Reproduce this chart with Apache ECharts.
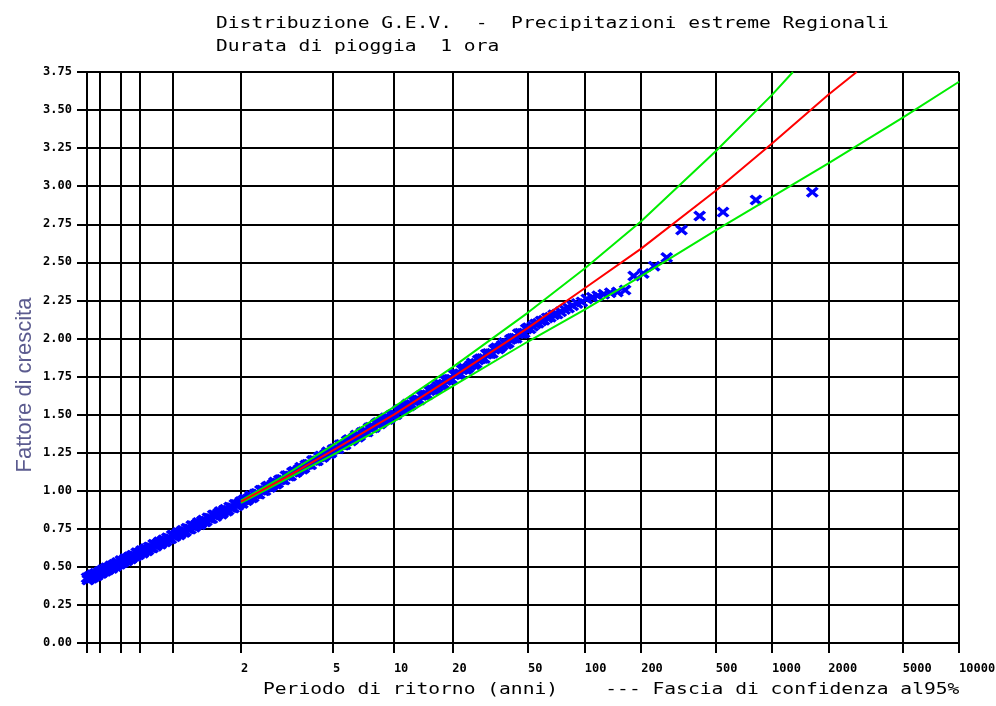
<!DOCTYPE html>
<html><head><meta charset="utf-8">
<script src="https://cdn.jsdelivr.net/npm/echarts@6/dist/echarts.min.js"></script>
<style>html,body{margin:0;padding:0;background:#fff}#c{width:996px;height:706px}</style>
</head><body><div id="c"></div>
<script>
// ---- texts ----
const titleLines = ['Distribuzione G.E.V.  -  Precipitazioni estreme Regionali', 'Durata di pioggia  1 ora'];
const xAxisText = 'Periodo di ritorno (anni)    --- Fascia di confidenza al95%';
const yAxisName = 'Fattore di crescita';

// ---- axis ticks (return period, years) ----
const gridTicksT = [1.01, 1.02, 1.05, 1.1, 1.25, 2, 5, 10, 20, 50, 100, 200, 500, 1000, 2000, 5000, 10000];
const labelTicksT = [2, 5, 10, 20, 50, 100, 200, 500, 1000, 2000, 5000, 10000];
const labelTexts = ['2', '5', '10', '20', '50', '100', '200', '500', '1000', '2000', '5000', '10000'];
const yMin = 0, yMax = 3.75, yStep = 0.25;

// ---- fitted GEV growth curve (red) ----
const fitT =     [2, 3, 5, 10, 20, 50, 100, 200, 500, 1000, 2000, 2836];
const fitValue = [0.928, 1.083, 1.265, 1.50, 1.745, 2.07, 2.33, 2.59, 2.97, 3.28, 3.60, 3.75];

// ---- 95% confidence band (green) ----
const upperT =     [2, 3, 5, 10, 20, 50, 100, 200, 500, 1000, 1294];
const upperValue = [0.935, 1.10, 1.30, 1.55, 1.81, 2.17, 2.46, 2.77, 3.23, 3.60, 3.75];
const lowerT =     [2, 3, 5, 10, 20, 50, 100, 200, 500, 1000, 2000, 5000, 10000];
const lowerValue = [0.92, 1.07, 1.235, 1.455, 1.685, 1.98, 2.19, 2.41, 2.71, 2.93, 3.15, 3.45, 3.686];

// ---- observed regional sample [return period, growth factor] ----
const observedLow = [
[1.010,.428],[1.011,.418],[1.012,.432],[1.013,.426],[1.014,.446],[1.015,.442],[1.016,.458],[1.018,.450],
[1.020,.470],[1.022,.462],[1.024,.476],[1.026,.471],[1.028,.491],[1.030,.488],[1.033,.507],[1.036,.499],
[1.039,.518],[1.042,.509],[1.045,.523],[1.048,.517],[1.052,.539],[1.056,.537],[1.060,.555],[1.065,.547],
[1.070,.567],[1.075,.558],[1.080,.573],[1.086,.569],[1.092,.591],[1.098,.589],[1.105,.608],[1.112,.599],
[1.120,.620],[1.128,.611],[1.137,.628],[1.146,.624],[1.156,.646],[1.166,.646],[1.177,.665],[1.188,.657],
[1.200,.678],[1.213,.671],[1.226,.687],[1.240,.684],[1.255,.707],[1.270,.706],[1.286,.726],[1.303,.719],
[1.320,.740],[1.340,.733],[1.360,.751],[1.380,.748],[1.400,.770],[1.425,.771],[1.450,.792],[1.475,.786],
[1.500,.807],[1.530,.801],[1.560,.819],[1.590,.817],[1.620,.840],[1.655,.842],[1.690,.863],[1.725,.856],
[1.760,.878],[1.800,.872],[1.840,.890],[1.880,.887],[1.920,.910],[1.960,.910],[2.000,.930]
];
const observedLowFill = [
[1.0105,.413],[1.0115,.437],[1.0125,.429],[1.0135,.449],[1.0145,.434],[1.0155,.450],[1.017,.441],[1.019,.465],
[1.021,.456],[1.023,.481],[1.025,.473],[1.027,.494],[1.029,.480],[1.0315,.498],[1.0345,.490],[1.0375,.513],
[1.0405,.503],[1.0435,.528],[1.0465,.520],[1.050,.541],[1.054,.528],[1.058,.546],[1.0625,.538],[1.0675,.562],
[1.0725,.552],[1.0775,.577],[1.083,.571],[1.089,.593],[1.095,.580],[1.1015,.599],[1.1085,.590],[1.116,.614],
[1.124,.605],[1.1325,.631],[1.1415,.626],[1.151,.648],[1.161,.636],[1.1715,.656],[1.1825,.648],[1.194,.672],
[1.2065,.664],[1.2195,.691],[1.233,.685],[1.2475,.708],[1.2625,.697],[1.278,.716],[1.2945,.709],[1.3115,.734],
[1.330,.726],[1.350,.754],[1.370,.749],[1.390,.772],[1.4125,.761],[1.4375,.782],[1.4625,.776],[1.4875,.801],
[1.515,.794],[1.545,.822],[1.575,.818],[1.605,.841],[1.6375,.831],[1.6725,.853],[1.7075,.846],[1.7425,.872],
[1.780,.865],[1.820,.893],[1.860,.888],[1.900,.911],[1.940,.900],[1.980,.920]
];
const observedMid = [
[2.05,.939],[2.1,.934],[2.15,.953],[2.2,.952],[2.26,.978],[2.32,.981],[2.38,1.003],[2.45,1.000],
[2.52,1.024],[2.6,1.021],[2.68,1.042],[2.76,1.043],[2.85,1.070],[2.94,1.074],[3.04,1.098],[3.14,1.095],
[3.25,1.121],[3.36,1.118],[3.48,1.140],[3.6,1.141],[3.73,1.169],[3.87,1.174],[4.0,1.198],[4.15,1.195],
[4.3,1.221],[4.46,1.218],[4.62,1.240],[4.8,1.242],[5.0,1.271],[5.2,1.277],[5.4,1.302],[5.6,1.299],
[5.85,1.328],[6.1,1.327],[6.35,1.350],[6.6,1.352],[6.9,1.382],[7.2,1.388],[7.5,1.414],[7.8,1.412],
[8.15,1.440],[8.5,1.439],[8.9,1.463],[9.3,1.467],[9.7,1.496],[10,1.498]
];
const observedMidFill = [
[2.025,.916],[2.075,.945],[2.125,.942],[2.175,.967],[2.23,.959],[2.29,.982],[2.35,.977],[2.415,1.005],
[2.485,1.001],[2.56,1.031],[2.64,1.030],[2.72,1.057],[2.805,1.050],[2.895,1.074],[2.99,1.071],[3.09,1.100],
[3.195,1.097],[3.305,1.128],[3.42,1.128],[3.54,1.155],[3.665,1.149],[3.80,1.174],[3.935,1.171],[4.075,1.200],
[4.225,1.197],[4.38,1.228],[4.54,1.228],[4.71,1.256],[4.9,1.250],[5.1,1.276],[5.3,1.275],[5.5,1.304],
[5.725,1.302],[5.975,1.336],[6.225,1.337],[6.475,1.366],[6.75,1.361],[7.05,1.387],[7.35,1.386],[7.65,1.417],
[7.975,1.415],[8.325,1.448],[8.7,1.450],[9.1,1.480],[9.5,1.475],[9.85,1.499]
];
const observedHigh = [
[10.5,1.526],[11,1.527],[11.5,1.552],[12,1.556],[12.6,1.589],[13.2,1.597],[13.8,1.625],[14.5,1.627],
[15.2,1.657],[16,1.660],[16.8,1.686],[17.6,1.691],[18.5,1.724],[19.4,1.732],[20.4,1.762],[21.4,1.764],
[22.5,1.794],[23.6,1.796],[24.8,1.822],[26,1.827],[27.3,1.859],[28.7,1.868],[30.1,1.897],[31.6,1.899],
[33.2,1.929],[34.9,1.931],[36.6,1.956],[38.4,1.962],[40.3,1.993],[42.3,2.002],[44.4,2.031],[46.6,2.032],
[48.9,2.062],[51.3,2.063]
];
const observedHighFill = [
[10.25,1.499],[10.75,1.535],[11.25,1.538],[11.75,1.569],[12.3,1.566],[12.9,1.595],[13.5,1.596],[14.15,1.630],
[14.85,1.631],[15.6,1.667],[16.4,1.672],[17.2,1.703],[18.05,1.701],[18.95,1.730],[19.9,1.732],[20.9,1.767],
[21.95,1.768],[23.05,1.804],[24.2,1.808],[25.4,1.839],[26.65,1.837],[28.0,1.866],[29.4,1.868],[30.85,1.902],
[32.4,1.903],[34.05,1.939],[35.75,1.942],[37.5,1.974],[39.35,1.971],[41.3,2.000],[43.35,2.002],[45.5,2.035],
[47.75,2.036],[50.1,2.071]
];
const observedTail = [
[53.0,2.08],[54.7,2.095],[56.6,2.10],[58.6,2.115],[60.8,2.12],[63.2,2.135],[65.7,2.14],[68.4,2.155],
[71.4,2.16],[74.6,2.175],[78.2,2.19],[82.1,2.20],[86.4,2.215],[91.2,2.23],[96.6,2.24],[102.6,2.26],
[109.5,2.27],[117.3,2.28],[126.3,2.29],[136.8,2.30],[149.3,2.305],[164.2,2.318],[182.4,2.41],[205.3,2.427],
[234.6,2.475],[273.7,2.532],[328.4,2.712],[410.5,2.804],[547.3,2.830],[821,2.909],[1642,2.961]
];

// Gumbel probability-paper abscissa (reduced variate) for a return period
function gumbel(T) { return -Math.log(-Math.log(1 - 1 / T)); }

const observed = observedLow.concat(observedLowFill, observedMid, observedMidFill, observedHigh, observedHighFill, observedTail)
  .map(p => [gumbel(p[0]), p[1]]);
const toLine = (Ts, Vs) => Ts.map((t, i) => [gumbel(t), Vs[i]]);

const labelPos = labelTicksT.map(gumbel);
function xLabel(v) {
  for (let i = 0; i < labelPos.length; i++) if (Math.abs(labelPos[i] - v) < 1e-6) return labelTexts[i];
  return '';
}

const monoFont = '"DejaVu Sans Mono", monospace';
const gridLine = { color: '#000', width: 2 };
const xMarker = 'path://M0,2 L2,0 L5,3 L8,0 L10,2 L7,5 L10,8 L8,10 L5,7 L2,10 L0,8 L3,5 Z';

const chart = echarts.init(document.getElementById('c'), null, { renderer: 'canvas' });
chart.setOption({
  animation: false,
  backgroundColor: '#fff',
  grid: { left: 87, top: 72, right: 37, bottom: 63, containLabel: false, outerBoundsMode: 'none' },
  xAxis: {
    type: 'value', min: gumbel(gridTicksT[0]), max: gumbel(gridTicksT[gridTicksT.length - 1]),
    axisLine: { show: true, onZero: false, lineStyle: gridLine },
    axisTick: { show: true, length: 10, customValues: gridTicksT.map(gumbel), lineStyle: gridLine },
    axisLabel: { customValues: labelPos, formatter: xLabel, align: 'left', margin: 20,
                 fontFamily: monoFont, fontWeight: 'bold', fontSize: 12, color: '#000',
                 showMinLabel: true, showMaxLabel: true, hideOverlap: false },
    splitLine: { show: true, lineStyle: gridLine }
  },
  yAxis: {
    type: 'value', min: yMin, max: yMax, interval: yStep,
    axisLine: { show: true, onZero: false, lineStyle: gridLine },
    axisTick: { show: true, length: 10, lineStyle: gridLine },
    axisLabel: { formatter: v => v.toFixed(2), margin: 15, fontFamily: monoFont, fontWeight: 'bold', fontSize: 12, color: '#000' },
    splitLine: { show: true, lineStyle: gridLine }
  },
  graphic: [
    { type: 'text', x: 216, y: 24, scaleX: 1.307, style: { text: titleLines[0], font: '15px ' + monoFont, fill: '#000', textVerticalAlign: 'middle', verticalAlign: 'middle' } },
    { type: 'text', x: 216, y: 47.5, scaleX: 1.307, style: { text: titleLines[1], font: '15px ' + monoFont, fill: '#000', textVerticalAlign: 'middle', verticalAlign: 'middle' } },
    { type: 'text', x: 263, y: 690, scaleX: 1.307, style: { text: xAxisText, font: '15px ' + monoFont, fill: '#000', textVerticalAlign: 'middle', verticalAlign: 'middle' } },
    { type: 'text', x: 25, y: 385, rotation: Math.PI / 2, style: { text: yAxisName, font: '22px "Liberation Sans", Arial, sans-serif', fill: '#5b5b8f', textAlign: 'center', align: 'center', textVerticalAlign: 'middle', verticalAlign: 'middle' } }
  ],
  series: [
    { type: 'scatter', name: 'osservati', data: observed, symbol: xMarker, symbolSize: [13, 11],
      itemStyle: { color: '#0000ff', opacity: 1 }, z: 2, clip: true, large: false },
    { type: 'line', name: 'inf', data: toLine(lowerT, lowerValue), showSymbol: false, symbol: 'none',
      lineStyle: { color: '#00ee00', width: 2 }, z: 3, clip: true },
    { type: 'line', name: 'sup', data: toLine(upperT, upperValue), showSymbol: false, symbol: 'none',
      lineStyle: { color: '#00ee00', width: 2 }, z: 3, clip: true },
    { type: 'line', name: 'GEV', data: toLine(fitT, fitValue), showSymbol: false, symbol: 'none',
      lineStyle: { color: '#ff0000', width: 2 }, z: 4, clip: true }
  ]
});
</script></body></html>
